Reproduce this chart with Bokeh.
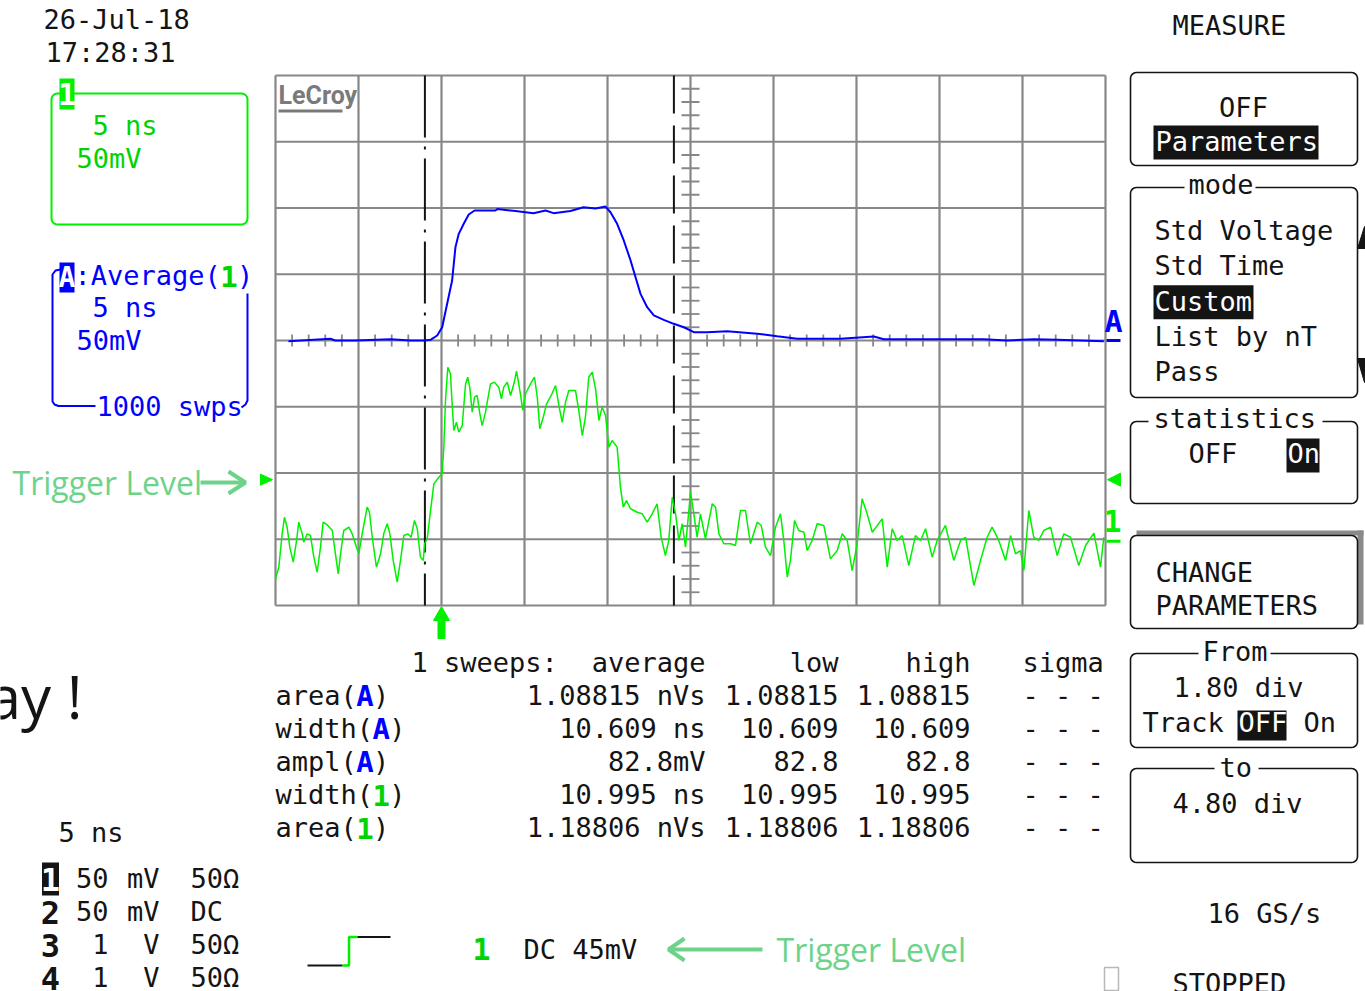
import numpy as np
from bokeh.plotting import figure
from bokeh.models import Range1d
from bokeh.core.properties import value
from bokeh.embed import file_html
from bokeh.resources import INLINE

W, H = 1365, 991

# ---------------- data ----------------
date_text = "26-Jul-18"
time_text = "17:28:31"
timebase = "5 ns"
ch1_scale = "50mV"
avg_sweeps = "1000 swps"
ns_per_div = 5.0
mv_per_div = 50.0

# trace A = Average(1), time in ns relative to trigger, amplitude in mV
blue_t = [-9.22, -6.69, -6.40, -5.18, -3.07, -1.87, -1.02, -0.66, -0.26, 0.04,
          0.34, 0.64, 0.84, 1.04, 1.34, 1.64, 1.99, 3.25, 3.37, 4.46,
          5.54, 6.27, 6.75, 7.77, 8.55, 9.28, 9.88, 10.18, 10.58, 10.98,
          11.39, 11.69, 11.99, 12.39, 12.79, 13.39, 13.99, 14.60, 15.20, 16.01,
          17.21, 19.02, 20.22, 21.43, 24.04, 26.05, 26.65, 32.67, 34.08, 35.69,
          37.09, 39.90]
blue_mv = [-0.5, 1.3, 0.0, 0.0, 1.0, 0.0, 0.0, 0.5, 3.8, 10.0,
           27.7, 45.3, 70.4, 80.5, 88.1, 95.1, 98.1, 98.1, 99.2, 97.7,
           96.1, 98.1, 96.1, 97.7, 100.6, 99.6, 101.1, 96.8, 88.1, 75.5,
           60.4, 47.8, 35.2, 25.1, 18.9, 15.6, 12.6, 10.0, 6.3, 6.3,
           7.0, 5.1, 3.2, 1.3, 1.3, 3.0, 1.0, 1.0, 0.0, 1.0,
           0.5, -0.5]

# channel 1 (single sweep)
ch1_t = [-10.00, -9.80, -9.60, -9.46, -9.30, -9.14, -8.93, -8.73, -8.60, -8.39,
         -8.30, -8.09, -7.89, -7.69, -7.49, -7.29, -7.13, -6.85, -6.58, -6.39,
         -6.22, -6.08, -5.89, -5.58, -5.38, -5.12, -4.98, -4.78, -4.48, -4.34,
         -4.17, -3.92, -3.67, -3.48, -3.27, -3.11, -2.91, -2.67, -2.47, -2.27,
         -2.03, -1.83, -1.63, -1.46, -1.27, -1.10, -1.02, -0.86, -0.66, -0.46,
         -0.16, 0.04, 0.14, 0.24, 0.38, 0.54, 0.64, 0.74, 0.90, 1.04,
         1.25, 1.45, 1.58, 1.70, 1.85, 1.99, 2.15, 2.31, 2.45, 2.65,
         2.95, 3.19, 3.45, 3.61, 3.75, 3.96, 4.16, 4.36, 4.52, 4.72,
         4.90, 5.06, 5.36, 5.60, 5.77, 5.92, 6.13, 6.33, 6.61, 6.87,
         7.09, 7.27, 7.47, 7.67, 8.07, 8.27, 8.48, 8.67, 8.87, 9.08,
         9.28, 9.48, 9.68, 9.88, 10.08, 10.28, 10.58, 10.78, 10.95, 11.14,
         11.39, 11.79, 12.09, 12.39, 12.69, 12.99, 13.23, 13.49, 13.69, 13.90,
         14.10, 14.30, 14.50, 14.70, 15.00, 15.20, 15.40, 15.60, 15.90, 16.31,
         16.51, 16.71, 17.01, 17.41, 17.71, 18.01, 18.31, 18.61, 19.02, 19.26,
         19.52, 19.82, 20.12, 20.42, 20.62, 20.83, 21.02, 21.27, 21.52, 21.83,
         22.03, 22.33, 22.63, 23.03, 23.43, 23.84, 24.14, 24.44, 24.74, 25.04,
         25.34, 25.64, 25.95, 26.55, 26.85, 27.15, 27.45, 27.75, 28.15, 28.55,
         28.86, 29.16, 29.56, 29.86, 30.36, 30.86, 31.27, 31.57, 32.07, 32.47,
         32.87, 33.17, 33.57, 33.98, 34.28, 34.58, 34.88, 35.08, 35.38, 35.68,
         35.98, 36.28, 36.69, 37.09, 37.49, 37.89, 38.39, 38.80, 39.30, 39.70,
         39.90]
ch1_mv = [-29.8, -21.1, 4.1, 16.6, 9.1, -6.0, -17.3, -0.9, 12.9, 4.1,
          -2.2, 4.1, 2.8, -13.5, -24.9, -6.0, 12.9, 10.4, 6.6, -11.0,
          -26.1, -11.0, 6.6, 9.1, 4.1, -6.0, -11.0, 4.1, 24.2, 20.4,
          1.5, -21.1, -11.0, 4.1, 11.7, 4.1, -16.0, -32.4, -16.0, 2.8,
          4.1, 1.5, 14.2, 7.9, -13.5, -16.0, -3.4, 0.3, 21.7, 41.8,
          46.8, 49.4, 69.5, 104.7, 129.8, 124.9, 102.2, 82.1, 88.3, 80.8,
          85.8, 117.3, 122.3, 114.8, 95.9, 107.2, 108.5, 94.7, 85.8, 95.9,
          117.3, 118.5, 114.8, 106.0, 114.8, 118.5, 108.5, 117.3, 126.8, 112.3,
          97.2, 109.8, 117.3, 122.3, 107.2, 83.4, 92.1, 102.2, 108.5, 116.0,
          99.7, 88.3, 103.4, 112.3, 112.3, 97.2, 78.3, 92.1, 122.3, 126.1,
          113.5, 89.6, 99.7, 93.4, 69.5, 74.5, 69.5, 39.3, 24.2, 29.2,
          23.0, 20.4, 19.2, 12.9, 19.2, 26.8, 1.5, -12.3, -0.9, 31.7,
          19.2, -0.9, 11.7, -6.0, 35.5, 19.2, 1.5, 19.2, 0.3, 26.8,
          24.2, 4.1, -3.4, -3.4, -4.7, 21.7, 21.7, -3.4, 12.9, 10.4,
          -6.0, -12.3, 9.1, 19.2, -0.9, -28.6, -16.0, 14.2, 6.6, 5.3,
          -8.5, -0.9, 11.7, 10.4, -14.8, -8.5, 4.1, -0.9, -23.6, -3.4,
          30.5, 19.2, 5.3, 15.4, -21.1, 7.9, -0.9, 2.8, -19.8, 2.8,
          -0.9, 7.9, -13.5, -0.9, 10.4, -16.0, -0.9, 1.5, -34.9, -16.0,
          1.5, 9.1, -0.9, -16.0, 2.8, -11.0, -8.5, -23.6, 21.7, 1.5,
          -0.9, 6.6, 9.1, -12.3, 4.1, 1.5, -19.8, -4.7, 4.6, -21.1,
          1.5]

meas_sweeps = "1 sweeps:"
meas_header = ["average", "low", "high", "sigma"]
meas_param = ["area", "width", "ampl", "width", "area"]
meas_source = ["A", "A", "A", "1", "1"]
meas_average = ["1.08815 nVs", "10.609 ns", "82.8mV", "10.995 ns", "1.18806 nVs"]
meas_low = ["1.08815", "10.609", "82.8", "10.995", "1.18806"]
meas_high = ["1.08815", "10.609", "82.8", "10.995", "1.18806"]
meas_sigma = ["- - -", "- - -", "- - -", "- - -", "- - -"]

chan_names = ["1", "2", "3", "4"]
chan_volts = ["50", "50", "1", "1"]
chan_units = ["mV", "mV", "V", "V"]
chan_coupling = ["50Ω", "DC", "50Ω", "50Ω"]

mode_items = ["Std Voltage", "Std Time", "Custom", "List by nT", "Pass"]
mode_selected = "Custom"
cursor_from_div = 1.80
cursor_to_div = 4.80
trigger_level_mv = 45
sample_rate = "16 GS/s"
status = "STOPPED"

# ---------------- layout constants ----------------
GRID_L, GRID_R, GRID_T, GRID_B = 275.0, 1105.0, 75.0, 605.0
DX = (GRID_R - GRID_L) / 10.0
DY = (GRID_B - GRID_T) / 8.0
TRIG_X = GRID_L + 2 * DX
ZERO_A = GRID_T + 4 * DY
ZERO_1 = GRID_T + 7 * DY

MONO = "DejaVu Sans Mono"
FS = 27
CW = 0.602 * FS
BASE_K = 0.38          # compensation of the SVG text baseline shift
INK = "#141414"
GREEN = "#00f000"
GREEN_T = "#00d400"
BLUE = "#0000ff"
LGREEN = "#6ed38a"
GRID_C = "#878787"

p = figure(width=W, height=H, x_range=Range1d(0, W), y_range=Range1d(H, 0),
           output_backend="svg", toolbar_location=None, x_axis_type=None,
           y_axis_type=None, min_border=0, outline_line_color=None,
           background_fill_color="white", border_fill_color="white", title=None)

p.extra_x_ranges = {"ns": Range1d(start=(0 - TRIG_X) / DX * ns_per_div,
                                  end=(W - TRIG_X) / DX * ns_per_div)}
p.extra_y_ranges = {
    "mvA": Range1d(start=(ZERO_A - H) / DY * mv_per_div, end=ZERO_A / DY * mv_per_div),
    "mv1": Range1d(start=(ZERO_1 - H) / DY * mv_per_div, end=ZERO_1 / DY * mv_per_div),
}


def txt(x, y, s, color=INK, size=FS, align="left", font=MONO, bold=False):
    p.text(x=[x], y=[y - BASE_K * size], text=[s], text_color=color, text_font=value(font),
           text_font_size=value(f"{size}px"), text_align=align,
           text_baseline="alphabetic", text_font_style="bold" if bold else "normal")


def rbox(x0, y0, x1, y1, r=6, color=INK, width=1.6):
    xs, ys = [], []
    arcs = [(x1 - r, y0 + r, -90, 0), (x1 - r, y1 - r, 0, 90),
            (x0 + r, y1 - r, 90, 180), (x0 + r, y0 + r, 180, 270)]
    for cx, cy, a0, a1 in arcs:
        for a in np.linspace(np.radians(a0), np.radians(a1), 7):
            xs.append(cx + r * np.cos(a))
            ys.append(cy + r * np.sin(a))
    xs.append(xs[0])
    ys.append(ys[0])
    p.line(xs, ys, line_color=color, line_width=width)


def inv(x0, x1, y0, y1, color=INK):
    p.quad(left=[x0], right=[x1], top=[y0], bottom=[y1], fill_color=color, line_color=None)


def blank(x0, x1, y0, y1):
    p.quad(left=[x0], right=[x1], top=[y0], bottom=[y1], fill_color="white", line_color=None)


# ---------------- graticule ----------------
vx = [GRID_L + i * DX for i in range(11)]
p.segment(x0=vx, y0=[GRID_T] * 11, x1=vx, y1=[GRID_B] * 11, line_color=GRID_C, line_width=2.2)
hy = [GRID_T + j * DY for j in range(9)]
p.segment(x0=[GRID_L] * 9, y0=hy, x1=[GRID_R] * 9, y1=hy, line_color=GRID_C, line_width=2.2)
tx = [GRID_L + k * DX / 5 for k in range(1, 50) if k % 5]
p.segment(x0=tx, y0=[ZERO_A - 6] * len(tx), x1=tx, y1=[ZERO_A + 6] * len(tx),
          line_color=GRID_C, line_width=1.8)
cx_mid = GRID_L + 5 * DX
ty = [GRID_T + k * DY / 5 for k in range(1, 40) if k % 5]
p.segment(x0=[cx_mid - 9] * len(ty), y0=ty, x1=[cx_mid + 9] * len(ty), y1=ty,
          line_color=GRID_C, line_width=1.8)

# LeCroy logo
txt(278, 104, "LeCroy", color="#7a7a7a", size=25, font="Roboto", bold=True)
p.segment(x0=[278], y0=[110.5], x1=[342], y1=[110.5], line_color="#7a7a7a", line_width=3)

# cursors
c1x = GRID_L + cursor_from_div * DX
c2x = GRID_L + cursor_to_div * DX
p.segment(x0=[c1x], y0=[GRID_T], x1=[c1x], y1=[GRID_B], line_color=INK, line_width=2,
          line_dash="62 9 3 9")
p.segment(x0=[c2x], y0=[GRID_T], x1=[c2x], y1=[GRID_B], line_color=INK, line_width=2,
          line_dash="38 12")

# traces
p.line(blue_t, blue_mv, x_range_name="ns", y_range_name="mvA", line_color=BLUE, line_width=2)
p.line(ch1_t, ch1_mv, x_range_name="ns", y_range_name="mv1", line_color=GREEN, line_width=1.5)

# trigger markers
trig_y = ZERO_1 - trigger_level_mv / mv_per_div * DY
p.patch([GRID_L - 15, GRID_L - 3, GRID_L - 15], [trig_y - 5.5, trig_y, trig_y + 5.5],
        fill_color=GREEN, line_color=GREEN)
p.patch([GRID_R + 15, GRID_R + 2, GRID_R + 15], [trig_y - 6.5, trig_y, trig_y + 6.5],
        fill_color=GREEN, line_color=GREEN)
p.patch([TRIG_X - 8, TRIG_X, TRIG_X + 8, TRIG_X + 3.5, TRIG_X + 3.5, TRIG_X - 3.5, TRIG_X - 3.5],
        [GRID_B + 15, GRID_B + 1, GRID_B + 15, GRID_B + 15, GRID_B + 33, GRID_B + 33, GRID_B + 15],
        fill_color=GREEN, line_color=GREEN)

# right-edge trace labels
txt(GRID_R + 8, ZERO_A - 8, "A", color=BLUE, size=30, bold=True, align="center")
p.segment(x0=[GRID_R + 1], y0=[ZERO_A], x1=[GRID_R + 15], y1=[ZERO_A], line_color=BLUE, line_width=3)
txt(GRID_R + 7, ZERO_1 - 7, "1", color=GREEN, size=30, bold=True, align="center")
p.segment(x0=[GRID_R + 1], y0=[ZERO_1 + 2], x1=[GRID_R + 15], y1=[ZERO_1 + 2], line_color=GREEN, line_width=3)

# ---------------- top-left info ----------------
txt(43, 29, date_text)
txt(45, 62, time_text)

rbox(51, 93, 247, 224, r=6, color=GREEN, width=2)
inv(59, 74, 78, 109, color=GREEN)
txt(66.5, 105, "1", color="white", size=30, bold=True, align="center")
txt(92, 135, timebase, color=GREEN_T)
txt(76, 168, ch1_scale, color=GREEN_T)

p.line([60, 55, 52, 52, 54, 58, 95], [269, 270, 274, 401, 404, 405.5, 405.5], line_color=BLUE, line_width=2)
p.line([247, 247, 245, 241], [293, 400, 404, 407], line_color=BLUE, line_width=2)
inv(59, 74, 262, 292, color=BLUE)
txt(66.5, 288, "A", color="white", size=28, bold=True, align="center")
txt(74, 285, ":Average( )", color=BLUE)
txt(74 + 9 * CW + CW / 2, 287, "1", color=GREEN_T, size=29, bold=True, align="center")
txt(92, 317, timebase, color=BLUE)
txt(76, 350, ch1_scale, color=BLUE)
txt(96, 416, avg_sweeps, color=BLUE)

# "Trigger Level" callouts
txt(12, 494, "Trigger Level", color=LGREEN, size=32, font="Open Sans")
p.line([200, 244], [482, 482], line_color=LGREEN, line_width=4)
p.line([228, 245, 228], [471, 482, 493], line_color=LGREEN, line_width=4)
txt(82, 718, "ay !", color=INK, size=60, font="Open Sans", align="right")

# ---------------- measurement table ----------------
txt(411, 672, meas_sweeps)
txt(705, 672, meas_header[0], align="right")
txt(838, 672, meas_header[1], align="right")
txt(970, 672, meas_header[2], align="right")
txt(1022, 672, meas_header[3])
for i in range(len(meas_param)):
    y = 705 + 33 * i
    txt(275, y, meas_param[i] + "( )")
    src_color = BLUE if meas_source[i] == "A" else GREEN_T
    txt(275 + (len(meas_param[i]) + 1) * CW + CW / 2, y + 2, meas_source[i],
        color=src_color, size=29, bold=True, align="center")
    txt(705, y, meas_average[i], align="right")
    txt(838, y, meas_low[i], align="right")
    txt(970, y, meas_high[i], align="right")
    txt(1022, y, meas_sigma[i])

# ---------------- channel summary ----------------
txt(58, 842, timebase)
for i in range(len(chan_names)):
    y = 888 + 33 * i
    if i == 0:
        inv(41.5, 58.5, y - 26, y + 7)
        txt(50, y + 3, chan_names[i], color="white", size=32, bold=True, align="center")
    else:
        txt(50, y + 3, chan_names[i], size=32, bold=True, align="center")
    txt(108, y, chan_volts[i], align="right")
    txt(159, y, chan_units[i], align="right")
    txt(190, y, chan_coupling[i])

# trigger symbol and setup
p.line([307, 342], [965, 965], line_color=INK, line_width=2)
p.line([342, 348.5, 348.5, 357], [965, 965, 936.5, 936.5], line_color=GREEN, line_width=2.5)
p.line([357, 390], [936.5, 936.5], line_color=INK, line_width=2)
txt(481, 960, "1", color=GREEN_T, size=30, bold=True, align="center")
txt(523, 959, f"DC {trigger_level_mv}mV")
p.line([668, 762], [949, 949], line_color=LGREEN, line_width=4)
p.line([684, 668, 684], [938, 949, 960], line_color=LGREEN, line_width=4)
txt(776, 961, "Trigger Level", color=LGREEN, size=32, font="Open Sans")

# ---------------- right menu ----------------
txt(1172, 35, "MEASURE")

rbox(1130, 72, 1357, 165)
txt(1243, 117, "OFF", align="center")
inv(1153, 1318, 125, 159)
txt(1155, 151, "Parameters", color="white")

rbox(1130, 187, 1357, 397)
blank(1184, 1255, 178, 196)
txt(1188, 194, "mode")
for i, item in enumerate(mode_items):
    y = 240 + 35.4 * i
    if item == mode_selected:
        inv(1153, 1253, y - 26, y + 8)
        txt(1154, y, item, color="white")
    else:
        txt(1154, y, item)
p.patch([1357, 1365, 1364], [248, 248, 226], fill_color=INK, line_color=INK)
p.patch([1357, 1365, 1364], [358, 358, 382], fill_color=INK, line_color=INK)

rbox(1130, 421, 1357, 503)
blank(1148, 1322, 410, 432)
txt(1153, 428, "statistics")
txt(1188, 463, "OFF")
inv(1286, 1319, 438, 472)
txt(1287, 463, "On", color="white")

p.quad(left=[1136], right=[1363], top=[530], bottom=[535], fill_color="#8a8a8a", line_color=None)
p.quad(left=[1357], right=[1363], top=[530], bottom=[624], fill_color="#8a8a8a", line_color=None)
rbox(1130, 535, 1357, 628)
txt(1155, 582, "CHANGE")
txt(1155, 615, "PARAMETERS")

rbox(1130, 653, 1357, 747)
blank(1198, 1270, 642, 664)
txt(1202, 661, "From")
txt(1173, 697, f"{cursor_from_div:.2f} div")
txt(1142, 732, "Track")
inv(1237, 1286, 710, 740)
txt(1238, 732, "OFF", color="white")
txt(1303, 732, "On")

rbox(1130, 768, 1357, 862)
blank(1214, 1258, 757, 780)
txt(1219, 777, "to")
txt(1172, 813, f"{cursor_to_div:.2f} div")

txt(1207, 923, sample_rate)
p.quad(left=[1104], right=[1118], top=[967], bottom=[990], fill_color=None, line_color="#b8b8b8", line_width=1.5)
txt(1172, 993, status)

open("out.html", "w").write(file_html(p, INLINE))
